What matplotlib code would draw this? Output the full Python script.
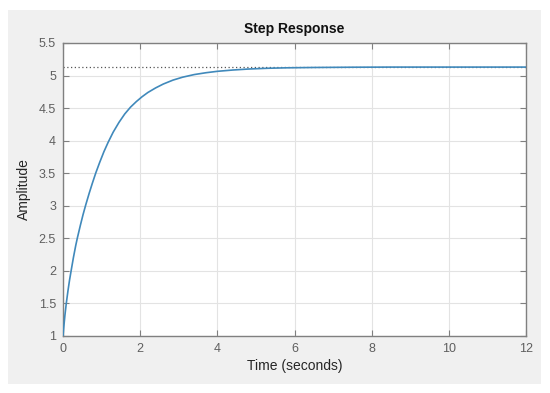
import matplotlib
matplotlib.use("Agg")
import matplotlib.pyplot as plt
from matplotlib.patches import Rectangle

# Data (time in seconds, amplitude)
time_s = [0, 0.02, 0.05, 0.085, 0.13, 0.17, 0.21, 0.27, 0.33, 0.37, 0.45, 0.52,
          0.59, 0.68, 0.76, 0.85, 0.95, 1.06, 1.17, 1.3, 1.45, 1.6, 1.75, 1.9,
          2.05, 2.2, 2.4, 2.6, 2.85, 3.1, 3.4, 3.7, 4.0, 4.4, 4.8, 5.3, 5.8,
          6.5, 7.5, 8.5, 10.0, 12.0]
amplitude = [1.0, 1.135, 1.32, 1.5, 1.70, 1.86, 2.0, 2.205, 2.39, 2.5, 2.70, 2.865,
             3.015, 3.195, 3.345, 3.505, 3.665, 3.83, 3.975, 4.13, 4.28, 4.41, 4.515,
             4.60, 4.675, 4.74, 4.81, 4.87, 4.93, 4.975, 5.015, 5.043, 5.065, 5.085,
             5.10, 5.112, 5.119, 5.124, 5.128, 5.13, 5.13, 5.13]
steady_state = 5.13
x_ticks = [0, 2, 4, 6, 8, 10, 12]
y_ticks = [1, 1.5, 2, 2.5, 3, 3.5, 4, 4.5, 5, 5.5]
y_tick_labels = ["1", "1.5", "2", "2.5", "3", "3.5", "4", "4.5", "5", "5.5"]

plt.rcParams['font.family'] = ['Liberation Sans', 'DejaVu Sans']

W, H = 550, 393
fig = plt.figure(figsize=(W / 100, H / 100), dpi=100, facecolor='white')
bg = Rectangle((8 / W, 1 - 384 / H), (541 - 8) / W, (384 - 10) / H,
               transform=fig.transFigure, facecolor='#f0f0f0',
               edgecolor='none', zorder=-10)
fig.add_artist(bg)

ax = fig.add_axes([63 / W, 1 - 336 / H, (526 - 63) / W, (336 - 43) / H])
ax.set_zorder(5)
ax.set_facecolor('white')

ax.axhline(steady_state, color='#555555', linestyle=(0, (1, 2)), linewidth=0.9, zorder=2)
ax.plot(time_s, amplitude, color='#4089bb', linewidth=1.2, zorder=3)

ax.set_xlim(0, 12)
ax.set_ylim(1, 5.5)
ax.set_xticks(x_ticks)
ax.set_yticks(y_ticks)
ax.set_yticklabels(y_tick_labels)
ax.grid(True, color='#e3e3e3', linewidth=0.8)
ax.set_axisbelow(True)

ax.tick_params(direction='in', top=True, right=True, length=4, width=0.8,
               colors='#808080', labelcolor='#5f5f5f', labelsize=9, pad=5)
for s in ax.spines.values():
    s.set_color('#808080')
    s.set_linewidth(1.0)

ax.set_title('Step Response', fontsize=10, fontweight='bold', color='#111111', pad=7)
ax.set_xlabel('Time (seconds)', fontsize=10, color='#262626', labelpad=3)
ax.set_ylabel('Amplitude', fontsize=10, color='#262626', labelpad=6)

fig.savefig('out.png', dpi=100, facecolor='white')
